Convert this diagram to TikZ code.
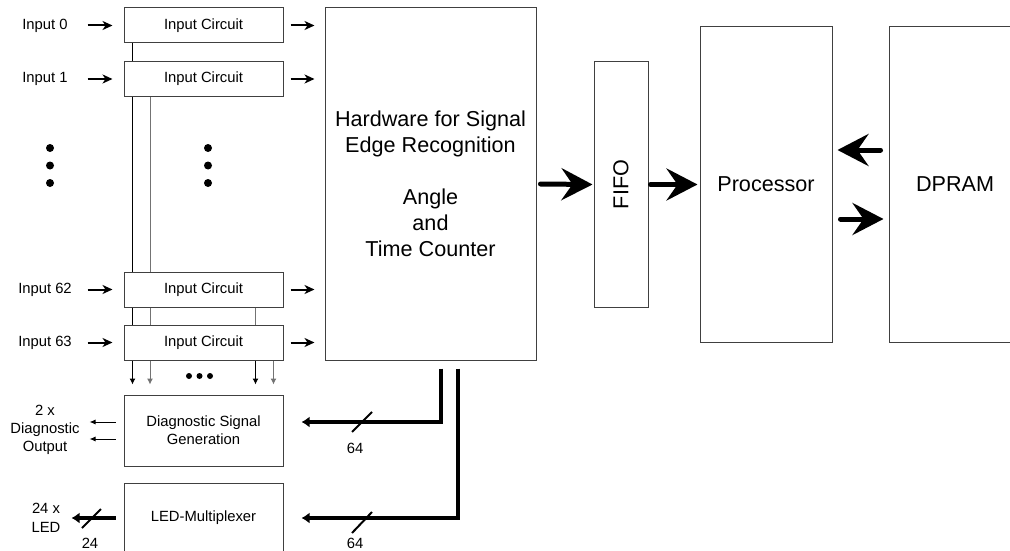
\documentclass[tikz,border=0pt]{standalone}
\usepackage{fontspec}
\setmainfont{Liberation Sans}
\usetikzlibrary{arrows.meta,positioning,calc}

\begin{document}
\begin{tikzpicture}[x=1pt, y=-1pt, every node/.style={font=\fontsize{14.8}{18}\selectfont, inner sep=2pt}]
\tikzset{blk/.style={draw=black!75, line width=1pt, align=center, minimum width=159pt, minimum height=35pt}}
\tikzset{big/.style={blk, font=\fontsize{21.6}{26}\selectfont}}
\tikzset{sig/.style={line width=2pt, -{Stealth[length=10pt, width=9pt, inset=3pt]}}}
\tikzset{dsig/.style={line width=1pt, -{Latex[length=6pt, width=5pt]}}}
\tikzset{wire/.style={line width=1pt, #1}, wire/.default=black}
\tikzset{busline/.style={line width=4pt, -{Latex[length=8pt, width=11pt]}}}
\tikzset{flow/.style={line width=5pt, line cap=round, -{Stealth[length=31pt, width=32pt, inset=11pt]}}}
\tikzset{slash/.style={line width=2pt}}
\useasboundingbox (0,0) rectangle (1010,551);
% input circuits
\node[blk] (circA) at (203.5,25.5) {Input Circuit};
\node[blk] (circB) at (203.5,79) {Input Circuit};
\node[blk] (circY) at (203.5,289.5) {Input Circuit};
\node[blk] (circZ) at (203.5,342.5) {Input Circuit};
\node (inA) at (45,25.5) {Input 0};
\node (inB) at (45,79) {Input 1};
\node (inY) at (45,289.5) {Input 62};
\node (inZ) at (45,342.5) {Input 63};
% main blocks
\node[big, minimum width=211pt, minimum height=352pt] (hw) at (430.5,184) {Hardware for Signal\\Edge Recognition\\[26pt]Angle\\and\\Time Counter};
\node[big, minimum width=54pt, minimum height=245pt] (fifo) at (621,184.5) {\rotatebox{90}{FIFO}};
\node[big, minimum width=132pt, minimum height=315pt] (proc) at (766,184.5) {Processor};
\node[big, minimum width=132pt, minimum height=315pt] (dpram) at (955,184.5) {DPRAM};
\node[blk, minimum height=71pt] (diag) at (203.5,430.5) {Diagnostic Signal\\Generation};
\node[blk, minimum height=70pt] (led) at (203.5,518) {LED-Multiplexer};
\node[align=center] (dout) at (45,430) {2 x\\Diagnostic\\Output};
\node[align=center, font=\fontsize{14.8}{19}\selectfont] (lout) at (46,517.5) {24 x\\LED};
\node (wA) at (355,448) {64};
\node (wB) at (355,543) {64};
\node (wC) at (90,543) {24};
% input arrows
\foreach \c in {circA,circB,circY,circZ}{
  \draw[sig] ($(\c.west)+(-36,0)$) -- ($(\c.west)+(-11,0)$);
  \draw[sig] ($(\c.east)+(7,0)$) -- ($(\c.east -| hw.west)+(-10,0)$);
}
% lines through the input circuits
\foreach \up/\dn/\off/\col in {circA/circB/9/black, circB/circY/9/black, circY/circZ/9/black,
    circB/circY/26.5/black!55, circY/circZ/26.5/black!55, circY/circZ/132/black!55}
  \draw[wire=\col] ($(\up.south west)+(\off,0)$) -- ($(\dn.north west)+(\off,0)$);
\foreach \off/\col in {9/black, 26.5/black!55, 132/black, 150/black!55}
  \draw[wire=\col, -{Latex[length=6pt, width=6pt]}] ($(circZ.south west)+(\off,0)$) -- ($(diag.north west)+(\off,-10)$);
% dots
\foreach \y in {148,165.5,183}{
  \fill (50,\y) circle (4pt);
  \fill (208,\y) circle (4pt);
}
\foreach \x in {189,199.5,210}
  \fill (\x,376) circle (3pt);
% data flow
\draw[flow] ($(hw.east)+(4,0)$) -- ($(fifo.west)+(-1,0)$);
\draw[flow] ($(fifo.east)+(2,0)$) -- ($(proc.west)+(-2,0)$);
\draw[flow] ($(dpram.west)+(-8,-34.5)$) -- ($(proc.east)+(5,-34.5)$);
\draw[flow] ($(proc.east)+(8,34.5)$) -- ($(dpram.west)+(-5,34.5)$);
% buses to diagnostic and LED
\coordinate (tapA) at ($(hw.south)+(10.5,8)$);
\coordinate (tapB) at ($(hw.south)+(27.5,8)$);
\draw[busline] (tapA) |- ($(diag.east)+(18,-8.5)$);
\draw[busline] (tapB) |- ($(led.east)+(18,0)$);
\draw[slash] (352,432) -- (372,412);
\draw[slash] (352,533) -- (372,512);
% outputs
\draw[dsig] ($(diag.west)+(-8,-8.5)$) -- ($(diag.west)+(-34,-8.5)$);
\draw[dsig] ($(diag.west)+(-8,8.5)$) -- ($(diag.west)+(-34,8.5)$);
\draw[busline] ($(led.west)+(-8,0)$) -- ($(led.west)+(-52,0)$);
\draw[slash] (82,528) -- (101,509);
\end{tikzpicture}
\end{document}
